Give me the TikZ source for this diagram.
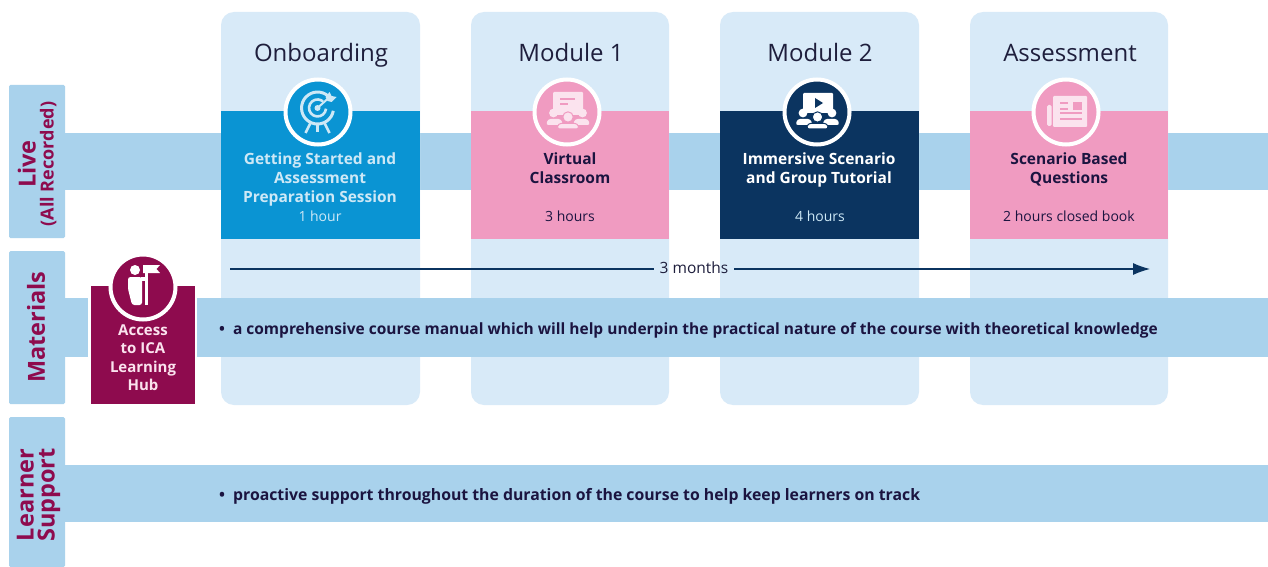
\documentclass[tikz,border=0pt]{standalone}
\usepackage{fontspec}
\setmainfont{Open Sans}
\usetikzlibrary{arrows.meta}
\definecolor{bandblue}{HTML}{A9D2EC}
\definecolor{cardblue}{HTML}{D8EAF8}
\definecolor{cyanbox}{HTML}{0A94D3}
\definecolor{pinkbox}{HTML}{F09BC1}
\definecolor{navybox}{HTML}{0B3460}
\definecolor{maroonbox}{HTML}{8E0B4E}
\definecolor{inkdark}{HTML}{1B1440}
\definecolor{capink}{HTML}{1E1E3C}
\definecolor{palehead}{HTML}{CDE8F6}
\definecolor{palepink}{HTML}{FBE3EE}
\newcommand{\hs}{\rule[-3.5pt]{0pt}{14pt}}
\tikzset{
  x=1pt,y=-1pt,
  tabbox/.style={fill=bandblue,rounded corners=1.5pt},
  band/.style={fill=bandblue},
  card/.style={fill=cardblue,rounded corners=13pt},
  tablabel/.style={rotate=90,text=maroonbox,font=\fontsize{23.5}{21}\selectfont\bfseries,align=center,inner sep=0pt},
  cardtitle/.style={font=\fontsize{24}{24}\selectfont,text=capink,inner sep=0pt,anchor=base},
  boxhead/.style={font=\fontsize{15.5}{19}\selectfont\bfseries,align=center,inner sep=0pt},
  hourtext/.style={font=\fontsize{14}{15}\selectfont,inner sep=0pt,anchor=base},
  bullettext/.style={font=\fontsize{15.5}{17}\selectfont\bfseries,text=inkdark,anchor=base west,inner sep=0pt},
  iconring/.style={draw=white,line width=4pt,minimum size=65pt,circle,inner sep=0pt},
}
% three people, centred at #1, in colour #2, separated by outline colour #3
\newcommand{\peopleicon}[3]{%
  \begin{scope}[shift={#1}]
    \fill[#2] (-14.5,0) circle (4.4);
    \fill[#2] (14.5,0) circle (4.4);
    \fill[#2,rounded corners=2.5pt] (-22,12) -- (-20,6) -- (-7,6) -- (-5,12) -- cycle;
    \fill[#2,rounded corners=2.5pt] (22,12) -- (20,6) -- (7,6) -- (5,12) -- cycle;
    \filldraw[fill=#2,draw=#3,line width=1pt] (0,4) circle (5.2);
    \filldraw[fill=#2,draw=#3,line width=1pt,rounded corners=2.5pt] (-11,16) -- (-9.5,10.5) -- (9.5,10.5) -- (11,16) -- cycle;
  \end{scope}}
\begin{document}
\begin{tikzpicture}
\useasboundingbox (0,0) rectangle (1268,567);
\fill[white] (0,0) rectangle (1268,567);

% Row bands behind the cards
\fill[band] (65,133) rectangle (1268,190);
\fill[band] (65,298) rectangle (88,357);
\fill[band] (65,465) rectangle (1268,522);

% Row tabs
\path[tabbox] (9,85) rectangle (65,238);
\path[tabbox] (9,251) rectangle (65,404);
\path[tabbox] (9,417) rectangle (65,567);
\node[tablabel] (livetab) at (37,164) {Live\\[-3pt]{\fontsize{18}{18}\selectfont (All Recorded)}};
\node[tablabel] (mattab) at (36,327) {Materials};
\node[tablabel] (suptab) at (38.5,495) {Learner\\Support};

% Cards
\path[card] (221,12) rectangle (420,405);
\path[card] (471,12) rectangle (669,405);
\path[card] (720,12) rectangle (919,405);
\path[card] (970,12) rectangle (1168,405);
\node[cardtitle] (t1) at (321,62) {Onboarding};
\node[cardtitle] (t2) at (571,62) {Module 1};
\node[cardtitle] (t3) at (820,62) {Module 2};
\node[cardtitle] (t4) at (1070,62) {Assessment};

% Coloured boxes
\fill[cyanbox] (221,111) rectangle (420,239);
\fill[pinkbox] (471,111) rectangle (669,239);
\fill[navybox] (720,111) rectangle (919,239);
\fill[pinkbox] (970,111) rectangle (1168,239);

% Icon discs
\node[iconring,fill=cyanbox] (c1) at (318,112) {};
\node[iconring,fill=pinkbox] (c2) at (567,112) {};
\node[iconring,fill=navybox] (c3) at (817,112) {};
\node[iconring,fill=pinkbox] (c4) at (1066,112) {};

% Target icon
\begin{scope}[shift={(317.5,112)}]
  \draw[palehead,line width=3pt] (15.8,-1.2) arc (10:320:16);
  \draw[palehead,line width=2.6pt] (8.5,-3.3) arc (5:310:8.5);
  \fill[palehead] (0,-4) circle (3);
  \draw[palehead,line width=2pt] (0,-4) -- (10,-13);
  \fill[palehead] (8,-15) -- (12,-20) -- (14,-16) -- (19,-15) -- (14,-10) -- (10,-11) -- cycle;
  \draw[palehead,line width=2.6pt] (-7,11) -- (-12,21);
  \draw[palehead,line width=2.6pt] (0,13) -- (0,20);
  \draw[palehead,line width=2.6pt] (7,11) -- (12,21);
\end{scope}

% Presentation icon (Virtual Classroom)
\begin{scope}[shift={(567,112)}]
  \fill[palepink,rounded corners=1pt] (-14,-20) rectangle (16,3);
  \draw[pinkbox,line width=1.3pt] (-7,-13) -- (8,-13);
  \draw[pinkbox,line width=1.3pt] (-7,-8) -- (1,-8);
\end{scope}
\peopleicon{(568,113)}{palepink}{pinkbox}

% Video icon
\begin{scope}[shift={(817,112)}]
  \fill[white,rounded corners=1pt] (-14,-19) rectangle (16,1);
  \fill[navybox] (-2,-14) -- (6,-9) -- (-2,-4) -- cycle;
\end{scope}
\peopleicon{(817.5,113)}{white}{navybox}

% Newspaper icon
\begin{scope}[shift={(1066,112)}]
  \fill[palepink,rounded corners=1pt] (-13,-16) rectangle (21,15);
  \fill[palepink,rounded corners=1.5pt] (-19,-7) rectangle (-14.5,14);
  \draw[pinkbox,line width=1.2pt] (-6,-9) -- (2,-9);
  \draw[pinkbox,line width=1.2pt] (-6,-3) -- (2,-3);
  \fill[pinkbox] (7,-10) rectangle (16,-2);
  \draw[pinkbox,line width=1.2pt] (-6,1) -- (16,1);
  \draw[pinkbox,line width=1.2pt] (-6,7) -- (16,7);
\end{scope}

% Box texts
\node[boxhead,text=palehead] (h1) at (320,179.5) {\hs Getting Started and\\Assessment\\Preparation Session\hs};
\node[boxhead,text=inkdark] (h2) at (570,170) {\hs Virtual\\Classroom\hs};
\node[boxhead,text=white] (h3) at (819,170) {\hs Immersive Scenario\\and Group Tutorial\hs};
\node[boxhead,text=inkdark] (h4) at (1069,170) {\hs Scenario Based\\Questions\hs};
\node[hourtext,text=palehead] (d1) at (320,221) {1 hour};
\node[hourtext,text=inkdark] (d2) at (570,221) {3 hours};
\node[hourtext,text=palehead] (d3) at (820,221) {4 hours};
\node[hourtext,text=inkdark] (d4) at (1069,221) {2 hours closed book};

% Timeline
\coordinate (ts) at (230,269);
\coordinate (te) at (1150,269);
\node[font=\fontsize{15.5}{16}\selectfont,text=capink,inner sep=6pt] (months) at (694,268) {3 months};
\draw[navybox,line width=1.1pt] (ts) -- (ts -| months.west);
\draw[navybox,line width=1.1pt,-{Latex[length=17pt,width=12pt]}] (te -| months.east) -- (te);

% Materials band
\fill[band] (197,298) rectangle (1268,357);
\node[bullettext] (b1) at (219,334) {•\hspace{8pt}a comprehensive course manual which will help underpin the practical nature of the course with theoretical knowledge};

% Learner support text
\node[bullettext,font=\fontsize{15.8}{17}\selectfont\bfseries] (b2) at (219,500) {•\hspace{8pt}proactive support throughout the duration of the course to help keep learners on track};

% Hub box
\fill[maroonbox] (91,286) rectangle (195,404);
\node[iconring,fill=maroonbox] (c5) at (143,287) {};
\begin{scope}[shift={(143,287)}]
  \fill[white] (-8,-17) circle (5);
  \fill[white,rounded corners=2.5pt] (-15,-10) -- (-1,-10) -- (-1,18) -- (-11,18) -- (-15,2) -- cycle;
  \fill[white] (-2,-10) rectangle (3,-6);
  \fill[white] (2,-18) rectangle (5,18);
  \fill[white] (0,-22) -- (17,-22) -- (13.5,-18) -- (17,-14) -- (0,-14) -- cycle;
\end{scope}
\node[font=\fontsize{15}{18.5}\selectfont\bfseries,text=palepink,align=center,inner sep=0pt] (hub) at (143,357.5) {Access\\to ICA\\Learning\\Hub};
\end{tikzpicture}
\end{document}
